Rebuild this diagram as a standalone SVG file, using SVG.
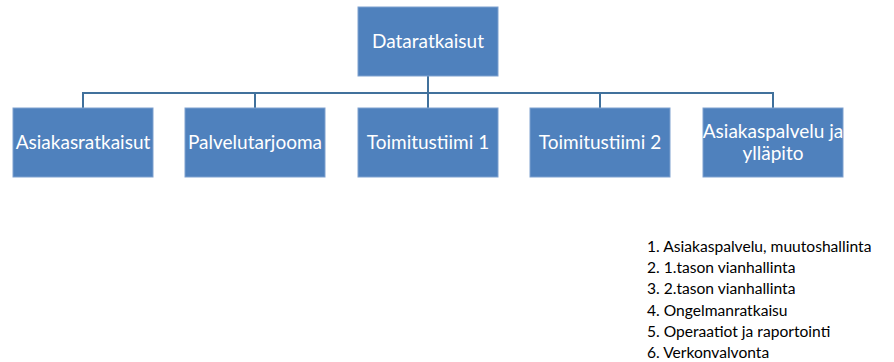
<svg xmlns="http://www.w3.org/2000/svg" width="894" height="362" viewBox="0 0 894 362">
<style>
.box{fill:#4F81BD;stroke:#7FA1CF;stroke-width:1}
.lbl{font-family:Lato,"Open Sans","Liberation Sans",sans-serif;font-size:19px;fill:#FFFFFF;text-anchor:middle}
.conn{fill:none;stroke:#41719C;stroke-width:2}
.list{font-family:Lato,"Open Sans","Liberation Sans",sans-serif;font-size:15.6px;fill:#000000}
</style>
<rect width="894" height="362" fill="#FFFFFF"/>
<g id="connectors">
<path class="conn" d="M428 76 V108"/>
<path class="conn" d="M83 108 V93 H773 V108"/>
<path class="conn" d="M255 93 V108"/>
<path class="conn" d="M600 93 V108"/>
</g>
<g id="n0"><rect class="box" x="358" y="7" width="140" height="69"/><text class="lbl" x="428" y="48">Dataratkaisut</text></g>
<g id="n1"><rect class="box" x="13" y="108" width="140" height="69"/><text class="lbl" x="83" y="149">Asiakasratkaisut</text></g>
<g id="n2"><rect class="box" x="185" y="108" width="140" height="69"/><text class="lbl" x="255" y="149">Palvelutarjooma</text></g>
<g id="n3"><rect class="box" x="358" y="108" width="140" height="69"/><text class="lbl" x="428" y="149">Toimitustiimi 1</text></g>
<g id="n4"><rect class="box" x="530" y="108" width="140" height="69"/><text class="lbl" x="600" y="149">Toimitustiimi 2</text></g>
<g id="n5"><rect class="box" x="703" y="108" width="140" height="69"/><text class="lbl" x="773" y="138">Asiakaspalvelu ja</text><text class="lbl" x="773" y="160">ylläpito</text></g>
<g id="list">
<text class="list" x="647" y="252">1. Asiakaspalvelu, muutoshallinta</text>
<text class="list" x="647" y="273">2. 1.tason vianhallinta</text>
<text class="list" x="647" y="294">3. 2.tason vianhallinta</text>
<text class="list" x="647" y="316">4. Ongelmanratkaisu</text>
<text class="list" x="647" y="337">5. Operaatiot ja raportointi</text>
<text class="list" x="647" y="358">6. Verkonvalvonta</text>
</g>
</svg>
